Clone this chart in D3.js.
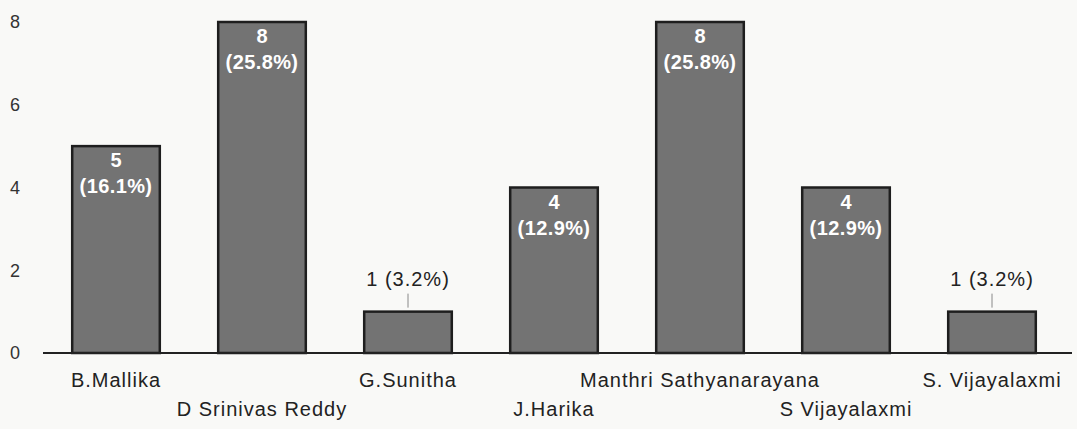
<!DOCTYPE html>
<html>
<head>
<meta charset="utf-8">
<script src="https://cdn.jsdelivr.net/npm/d3@7"></script>
<style>
  body { margin: 0; background: #f9f9f7; }
  svg { display: block; font-family: "Liberation Sans", Arial, sans-serif; }
</style>
</head>
<body>
<div id="chart"></div>
<script>
// data
const names = ["B.Mallika", "D Srinivas Reddy", "G.Sunitha", "J.Harika",
  "Manthri Sathyanarayana", "S Vijayalaxmi", "S. Vijayalaxmi"];
const counts = [5, 8, 1, 4, 8, 4, 1];
const yTicks = [0, 2, 4, 6, 8];

const total = d3.sum(counts);
const data = names.map((n, i) => ({ name: n, value: counts[i], i: i }));

const width = 1077;
const height = 429;
const margin = { top: 22, right: 12, bottom: 76, left: 43 };

const svg = d3.select("#chart")
  .append("svg")
  .attr("width", width)
  .attr("height", height);

const g = svg.append("g")
  .attr("transform", `translate(${margin.left}, ${margin.top})`);

const innerH = height - margin.top - margin.bottom;

const x = d3.scaleBand()
  .domain(names)
  .range([0, 1022])
  .paddingInner(0.4)
  .paddingOuter(0.2);

const y = d3.scaleLinear()
  .domain([0, 8])
  .range([innerH, 0]);

// y tick labels only, no axis line
const yAxis = g.append("g")
  .call(d3.axisLeft(y).tickValues(yTicks).tickSize(0).tickPadding(23));
yAxis.select(".domain").remove();
yAxis.attr("font-size", null).attr("font-family", null);
yAxis.selectAll("text")
  .style("font-size", "18px")
  .style("font-family", "Liberation Sans, Arial, sans-serif")
  .attr("fill", "#333");

// bars
g.selectAll(".bar")
  .data(data)
  .enter()
  .append("rect")
  .attr("class", "bar")
  .attr("x", (d) => x(d.name))
  .attr("y", (d) => y(d.value))
  .attr("width", x.bandwidth())
  .attr("height", (d) => innerH - y(d.value))
  .attr("fill", "#737373")
  .attr("stroke", "#1e1e1e")
  .attr("stroke-width", 2.5);

// baseline
g.append("line")
  .attr("x1", 0)
  .attr("x2", 1029)
  .attr("y1", innerH)
  .attr("y2", innerH)
  .attr("stroke", "#222")
  .attr("stroke-width", 2);

// x labels, staggered
g.selectAll(".xlab")
  .data(data)
  .enter()
  .append("text")
  .attr("class", "xlab")
  .attr("x", (d) => x(d.name) + x.bandwidth() / 2)
  .attr("y", (d) => innerH + (d.i % 2 === 0 ? 34 : 63))
  .attr("text-anchor", "middle")
  .attr("font-size", 20)
  .attr("letter-spacing", 1)
  .attr("fill", "#222")
  .text((d) => d.name);

const pct = (d) => `(${(d.value / total * 100).toFixed(1)}%)`;

// labels inside tall bars
const big = data.filter((d) => d.value > 1);
g.selectAll(".vlab")
  .data(big)
  .enter()
  .append("text")
  .attr("class", "vlab")
  .attr("x", (d) => x(d.name) + x.bandwidth() / 2)
  .attr("y", (d) => y(d.value) + 21)
  .attr("text-anchor", "middle")
  .attr("font-size", 20)
  .attr("font-weight", "bold")
  .attr("fill", "#fff")
  .text((d) => d.value);

g.selectAll(".plab")
  .data(big)
  .enter()
  .append("text")
  .attr("class", "plab")
  .attr("x", (d) => x(d.name) + x.bandwidth() / 2)
  .attr("y", (d) => y(d.value) + 47)
  .attr("text-anchor", "middle")
  .attr("font-size", 20)
  .attr("font-weight", "bold")
  .attr("letter-spacing", 0.4)
  .attr("fill", "#fff")
  .text(pct);

// labels above small bars with leader line
const small = data.filter((d) => d.value <= 1);
g.selectAll(".leader")
  .data(small)
  .enter()
  .append("line")
  .attr("class", "leader")
  .attr("x1", (d) => x(d.name) + x.bandwidth() / 2)
  .attr("x2", (d) => x(d.name) + x.bandwidth() / 2)
  .attr("y1", (d) => y(d.value) - 18)
  .attr("y2", (d) => y(d.value) - 4)
  .attr("stroke", "#888")
  .attr("stroke-width", 1);

g.selectAll(".slab")
  .data(small)
  .enter()
  .append("text")
  .attr("class", "slab")
  .attr("x", (d) => x(d.name) + x.bandwidth() / 2)
  .attr("y", (d) => y(d.value) - 26)
  .attr("text-anchor", "middle")
  .attr("font-size", 20)
  .attr("letter-spacing", 1)
  .attr("fill", "#222")
  .text((d) => `${d.value} ${pct(d)}`);
</script>
</body>
</html>
